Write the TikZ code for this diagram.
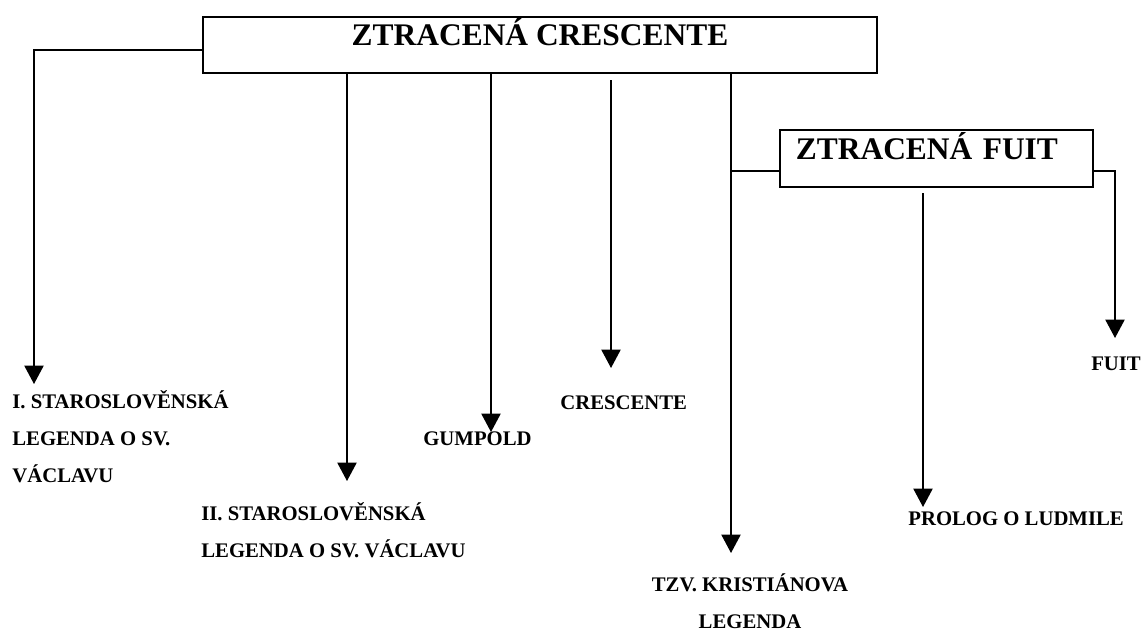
\documentclass[tikz,border=0pt]{standalone}
\usepackage{fontspec}
\setmainfont{Liberation Serif}
\usepackage{tikz}
\usetikzlibrary{arrows.meta,positioning,calc}

\begin{document}
\begin{tikzpicture}[
		x=0.02cm, y=-0.02cm, % 1 unit = 1 px of the scan
		box/.style={draw=black, line width=1pt, inner ysep=0pt, text depth=0.54cm,
			font=\fontsize{17.9}{20}\selectfont\bfseries},
		lbl/.style={inner sep=0pt, font=\fontsize{11.8}{21}\selectfont\bfseries},
		arr/.style={line width=0.75pt, -{Triangle[width=11pt,length=10.5pt]}}]
	\useasboundingbox (0,0) rectangle (1145,632);
	% base of a multi-line node = baseline of its last line
	\path 	(540,16) 	node 	(zc) [box, anchor=north, minimum width=13.48cm, inner xsep=0pt, text height=0.58cm] {ZTRACENÁ CRESCENTE}
	        (779,129) 	node 	(zf) [box, anchor=north west, text width=5.62cm, inner xsep=0.32cm, align=left, text height=0.6cm] {ZTRACENÁ FUIT}
	        (12,482) 	node 	(l1) [lbl, anchor=base west, align=left] {I. STAROSLOVĚNSKÁ\\LEGENDA O SV.\\VÁCLAVU}
	        (201,557) 	node 	(l2) [lbl, anchor=base west, align=left] {II. STAROSLOVĚNSKÁ\\LEGENDA O SV. VÁCLAVU}
	        (423,445) 	node 	(gu) [lbl, anchor=base west] {GUMPOLD}
	        (560,409) 	node 	(cr) [lbl, anchor=base west] {CRESCENTE}
	        (750,628) 	node 	(kr) [lbl, anchor=base, align=center] {TZV. KRISTIÁNOVA\\LEGENDA}
	        (908,525) 	node 	(pr) [lbl, anchor=base west] {PROLOG O LUDMILE}
	        (1116,370) 	node 	(fu) [lbl, anchor=base] {FUIT};
	% arrow tips and loose line starts
	\coordinate (a1) at (34,384);
	\coordinate (a2) at (347,481);
	\coordinate (a3) at (491,432);
	\coordinate (c4) at (611,80);
	\coordinate (a4) at (611,368);
	\coordinate (a5) at (731,553);
	\coordinate (c6) at (923,193);
	\coordinate (a6) at (923,507);
	\coordinate (a7) at (1115,338);
	\draw [arr] ([yshift=-0.1cm]zc.west) -| (a1);
	\draw [arr] (zc.south -| a2) -- (a2);
	\draw [arr] (zc.south -| a3) -- (a3);
	\draw [arr] (c4) -- (a4);
	\draw [arr] (zc.south -| a5) -- (a5);
	\draw [line width=0.75pt] ([yshift=-0.25cm]zf.west) -- ([yshift=-0.25cm]zf.west -| a5);
	\draw [arr] (c6) -- (a6);
	\draw [arr] ([yshift=-0.25cm]zf.east) -| (a7);
\end{tikzpicture}
\end{document}
